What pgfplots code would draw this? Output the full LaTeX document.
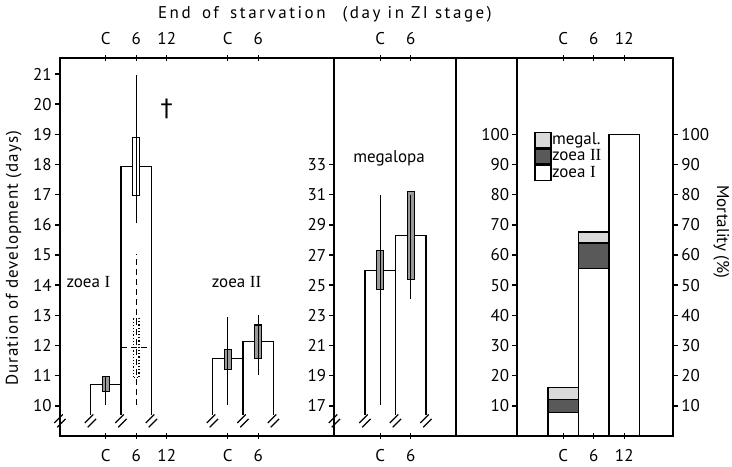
\documentclass[border=0pt]{standalone}
\usepackage{fontspec}
\setmainfont{PT Sans}
\newfontfamily\spaced[LetterSpace=6]{PT Sans}
\newfontfamily\tspaced[LetterSpace=15]{PT Sans}
\newfontfamily\serifrm{Liberation Serif}
\newfontfamily\dv{DejaVu Sans}
\usepackage{pgfplots}
\pgfplotsset{compat=1.18}
\newcommand\lab{\fontsize{8.5}{10}\selectfont}
\pgfdeclareplotmark{brk}{%
  \pgfsetlinewidth{0.6pt}%
  \pgfpathmoveto{\pgfpoint{-2.8pt}{-1.0pt}}\pgfpathlineto{\pgfpoint{1.4pt}{3.2pt}}%
  \pgfpathmoveto{\pgfpoint{-1.4pt}{-3.2pt}}\pgfpathlineto{\pgfpoint{2.8pt}{1.0pt}}%
  \pgfusepathqstroke}
\pgfplotsset{
  panel/.style={scale only axis, height=189pt, x=15.25pt, clip=false,
    axis line style={line width=1pt},
    tick align=outside, major tick length=2.5pt,
    tick style={black, line width=0.7pt},
    xtick=\empty, ytick pos=left,
    tick label style={font=\lab},
    yticklabel style={inner sep=1.5pt},
    /pgf/number format/assume math mode=true},
  bar/.style={black, line width=0.55pt, mark=none},
  box/.style={draw=black, line width=0.55pt, fill=black!40, mark=none},
  wbox/.style={draw=black, line width=0.55pt, fill=white, mark=none},
  wh/.style={black, line width=0.55pt, mark=none},
  brks/.style={only marks, mark=brk, mark options={black}},
}
\begin{document}
\begin{tikzpicture}
% ---------------- panel 1: zoea I and zoea II (days) ----------------
\begin{axis}[panel, name=p1, xmin=0, xmax=9, ymin=9, ymax=21.53, ytick={10,...,21}]
  % zoea I, control
  \addplot[bar] coordinates {(1,9.7) (1,10.70) (2,10.70) (2,9.7)};
  \addplot[box] coordinates {(1.39,10.47) (1.61,10.47) (1.61,10.97) (1.39,10.97)} -- cycle;
  \addplot[wh] coordinates {(1.5,10.03) (1.5,10.97)};
  % zoea I, 6 days starvation
  \addplot[bar] coordinates {(2,9.7) (2,17.93) (3,17.93) (3,9.7)};
  \addplot[wbox] coordinates {(2.39,16.96) (2.61,16.96) (2.61,18.89) (2.39,18.89)} -- cycle;
  \addplot[wh] coordinates {(2.5,16.05) (2.5,20.96)};
  \addplot[black, line width=0.6pt, densely dashed] coordinates {(2,11.93) (3,11.93)};
  \addplot[black, line width=0.7pt, densely dashed] coordinates {(2.5,10.03) (2.5,15.04)};
  \addplot[black, line width=0.6pt, densely dotted] coordinates {(2.41,10.93) (2.59,10.93) (2.59,12.9) (2.41,12.9)} -- cycle;
  % zoea II, control
  \addplot[bar] coordinates {(5,9.7) (5,11.58) (6,11.58) (6,9.7)};
  \addplot[box] coordinates {(5.39,11.19) (5.61,11.19) (5.61,11.88) (5.39,11.88)} -- cycle;
  \addplot[wh] coordinates {(5.5,10.03) (5.5,12.96)};
  % zoea II, 6 days starvation
  \addplot[bar] coordinates {(6,9.7) (6,12.13) (7,12.13) (7,9.7)};
  \addplot[box] coordinates {(6.39,11.58) (6.61,11.58) (6.61,12.68) (6.39,12.68)} -- cycle;
  \addplot[wh] coordinates {(6.5,11.03) (6.5,13.0)};
  % axis breaks
  \addplot[brks] coordinates {(0,9.5) (1,9.5) (2,9.5) (3,9.5) (5,9.5) (6,9.5) (7,9.5)};
  \node[font=\dv\fontsize{12}{12}\selectfont] at (axis cs:3.5,19.85) {†};
  \node[font=\lab] at (axis cs:0.93,14.11) {zoea {\serifrm I}};
  \node[font=\lab] at (axis cs:5.79,14.11) {zoea {\serifrm II}};
  \node[font=\spaced\fontsize{8.5}{10}\selectfont, rotate=90] at (axis description cs:-0.169,0.47) {Duration of development (days)};
\end{axis}
% ---------------- panel 2: megalopa (days) ----------------
\begin{axis}[panel, name=p2, at={(p1.south east)}, anchor=south west,
  xmin=9, xmax=13, ymin=15, ymax=40.06, ytick={17,19,...,33}]
  \addplot[bar] coordinates {(10,16.4) (10,26.0) (11,26.0) (11,16.4)};
  \addplot[box] coordinates {(10.39,24.7) (10.61,24.7) (10.61,27.3) (10.39,27.3)} -- cycle;
  \addplot[wh] coordinates {(10.5,17.07) (10.5,31.0)};
  \addplot[bar] coordinates {(11,16.4) (11,28.3) (12,28.3) (12,16.4)};
  \addplot[box] coordinates {(11.39,25.4) (11.61,25.4) (11.61,31.2) (11.39,31.2)} -- cycle;
  \addplot[wh] coordinates {(11.5,24.1) (11.5,31.0)};
  \addplot[brks] coordinates {(9,16) (10,16) (11,16) (12,16)};
  \node[font=\lab] at (axis cs:10.79,33.4) {megalopa};
\end{axis}
% ---------------- panel 3: empty ----------------
\begin{axis}[panel, name=p3, at={(p2.south east)}, anchor=south west,
  xmin=13, xmax=15, ymin=0, ymax=1, ytick=\empty]
\end{axis}
% ---------------- panel 4: mortality (%) ----------------
\begin{axis}[panel, name=p4, at={(p3.south east)}, anchor=south west,
  xmin=15, xmax=20.1, ymin=0, ymax=125.3, ytick={10,20,...,100},
  ybar stacked, bar width=1, area legend, reverse legend,
  legend style={at={(0.106,0.805)}, anchor=north west, draw=none, fill=none,
    font=\lab, inner sep=0pt, row sep=0pt,
    nodes={inner sep=0.25pt, text height=5.6pt, text depth=1.4pt}},
  legend cell align=left,
  legend image code/.code={\draw[#1, draw=black, line width=0.6pt] (0cm,-0.13cm) rectangle (0.28cm,0.135cm);}]
  \addplot[fill=white, draw=black, line width=0.6pt] coordinates {(16.5,7.7) (17.5,55.5) (18.5,100)};
  \addlegendentry{zoea {\serifrm I}}
  \addplot[fill=black!65, draw=black, line width=0.6pt] coordinates {(16.5,4.5) (17.5,8.5) (18.5,0)};
  \addlegendentry{zoea {\serifrm II}}
  \addplot[fill=black!15, draw=black, line width=0.6pt] coordinates {(16.5,3.8) (17.5,3.6) (18.5,0)};
  \addlegendentry{megal.}
\end{axis}
% right-hand mortality scale
\begin{axis}[panel, at={(p4.south west)}, anchor=south west,
  xmin=15, xmax=20.1, ymin=0, ymax=125.3, ytick={10,20,...,100},
  axis y line*=right, axis x line=none, ytick pos=right]
  \node[font=\lab, rotate=-90] at (axis description cs:1.311,0.54) {Mortality (\%)};
\end{axis}
% top scale
\begin{axis}[scale only axis, height=189pt, x=15.25pt, clip=false, at={(p1.south west)}, anchor=south west,
  xmin=0, xmax=20.1, ymin=0, ymax=1, axis x line*=top, axis y line=none,
  axis line style={line width=1pt, -},
  xtick={1.5,2.5,3.5,5.5,6.5,10.5,11.5,16.5,17.5,18.5},
  xticklabels={C,6,12,C,6,C,6,C,6,12},
  tick align=center, major tick length=3pt, tick style={black, line width=0.7pt},
  tick label style={font=\lab}, xticklabel style={yshift=1.5pt}]
  \node[font=\tspaced\fontsize{8.5}{10}\selectfont] at (axis description cs:0.432,1.1164) {End\hspace{0.25em} of\hspace{0.25em} starvation\hspace{1em}(day in ZI stage)};
\end{axis}
% bottom scale
\begin{axis}[scale only axis, height=189pt, x=15.25pt, clip=false, at={(p1.south west)}, anchor=south west,
  xmin=0, xmax=20.1, ymin=0, ymax=1, axis x line*=bottom, axis y line=none,
  axis line style={line width=1pt, -},
  xtick={1.5,2.5,3.5,5.5,6.5,10.5,11.5,16.5,17.5,18.5},
  xticklabels={C,6,12,C,6,C,6,C,6,12},
  tick align=center, major tick length=3pt, tick style={black, line width=0.7pt},
  tick label style={font=\lab}, xticklabel style={yshift=-1.5pt}]
\end{axis}
\pgfresetboundingbox
\path[use as bounding box] (p1.south west) ++(-30pt,-15pt) rectangle ++(366pt,233pt);
\end{tikzpicture}
\end{document}
